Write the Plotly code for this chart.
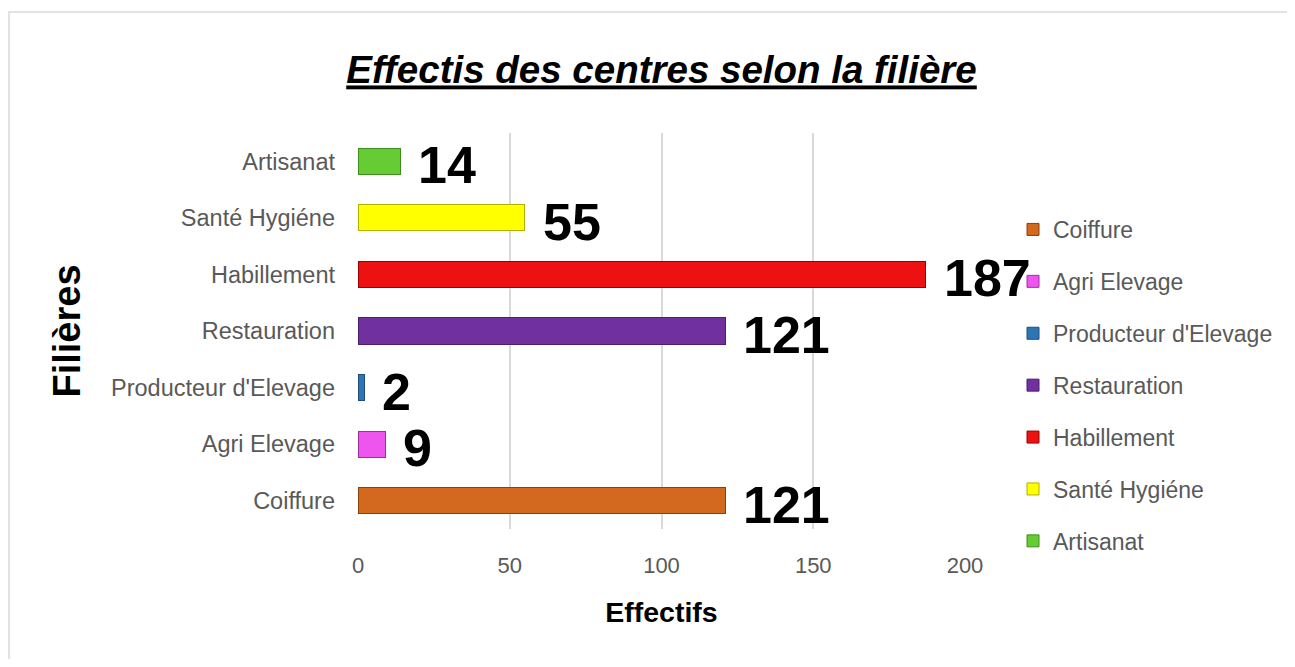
import plotly.graph_objects as go

categories = ["Coiffure", "Agri Elevage", "Producteur d'Elevage", "Restauration",
              "Habillement", "Santé Hygiéne", "Artisanat"]
values = [121, 9, 2, 121, 187, 55, 14]
colors = ["#D2691E", "#EE55EE", "#2E75B6", "#7030A0", "#EE1111", "#FFFF00", "#66CC33"]
line_colors = ["#8B3F0C", "#A030A0", "#1F4E79", "#4B1F70", "#9A0000", "#B0B000", "#3E8E1E"]
x_ticks = [0, 50, 100, 150, 200]

# page body adds an 8px margin on every side, so the figure is drawn 16px smaller
W, H = 1279, 651
L, R, T, B = 350, 322, 125, 130
pw = W - L - R
ph = H - T - B
FONT = "Liberation Sans, Arial, sans-serif"

fig = go.Figure()
for i, (c, v) in enumerate(zip(categories, values)):
    fig.add_trace(go.Bar(
        y=[c], x=[v], orientation="h", name=c,
        marker=dict(color=colors[i], line=dict(color=line_colors[i], width=1)),
        width=0.46, legendgroup=c,
    ))
    fig.add_annotation(x=v, y=c, text="<b>%d</b>" % v, showarrow=False, xanchor="left",
                       xshift=16, yshift=-4,
                       font=dict(family=FONT, size=52, color="#000000"))

fig.update_layout(
    width=W, height=H,
    margin=dict(l=L, r=R, t=T, b=B, autoexpand=False),
    paper_bgcolor="white", plot_bgcolor="white",
    barmode="stack",
    showlegend=True,
    legend=dict(x=(1005 - L) / pw, y=(H - 200 - B) / ph, xanchor="left", yanchor="top",
                traceorder="grouped", tracegroupgap=19,
                font=dict(family=FONT, size=23, color="#595959"),
                itemwidth=30),
    title=dict(text="<b><i><u>Effectis des centres selon la filière</u></i></b>",
               x=0.5, xref="paper", xanchor="center", y=1 - 62 / H, yanchor="middle",
               font=dict(family=FONT, size=38.5, color="#000000")),
    font=dict(family=FONT),
    xaxis=dict(range=[0, 200], tickvals=x_ticks, showgrid=True, gridcolor="#D9D9D9",
               gridwidth=1.5, zeroline=False, showline=False, automargin=False,
               tickfont=dict(size=22, color="#595959"), ticklabelstandoff=21,
               title=dict(text="<b>Effectifs</b>", standoff=25,
                          font=dict(size=28.5, color="#000000"))),
    yaxis=dict(type="category", categoryorder="array", categoryarray=categories,
               range=[-0.5, len(categories) - 0.5],
               showgrid=False, zeroline=False, showline=False, automargin=False,
               tickfont=dict(size=23.5, color="#595959"), ticklabelstandoff=22,
               title=dict(text="<b>Filières</b>", standoff=18,
                          font=dict(size=38, color="#000000"))),
)

fig.add_shape(type="rect", xref="paper", yref="paper",
              x0=(1 - L) / pw, x1=(W + 40 - L) / pw,
              y0=(-40 - B) / ph, y1=(H - 4 - B) / ph,
              line=dict(color="#D9D9D9", width=1.5), fillcolor="rgba(0,0,0,0)", layer="below")

fig.write_html("out.html")
